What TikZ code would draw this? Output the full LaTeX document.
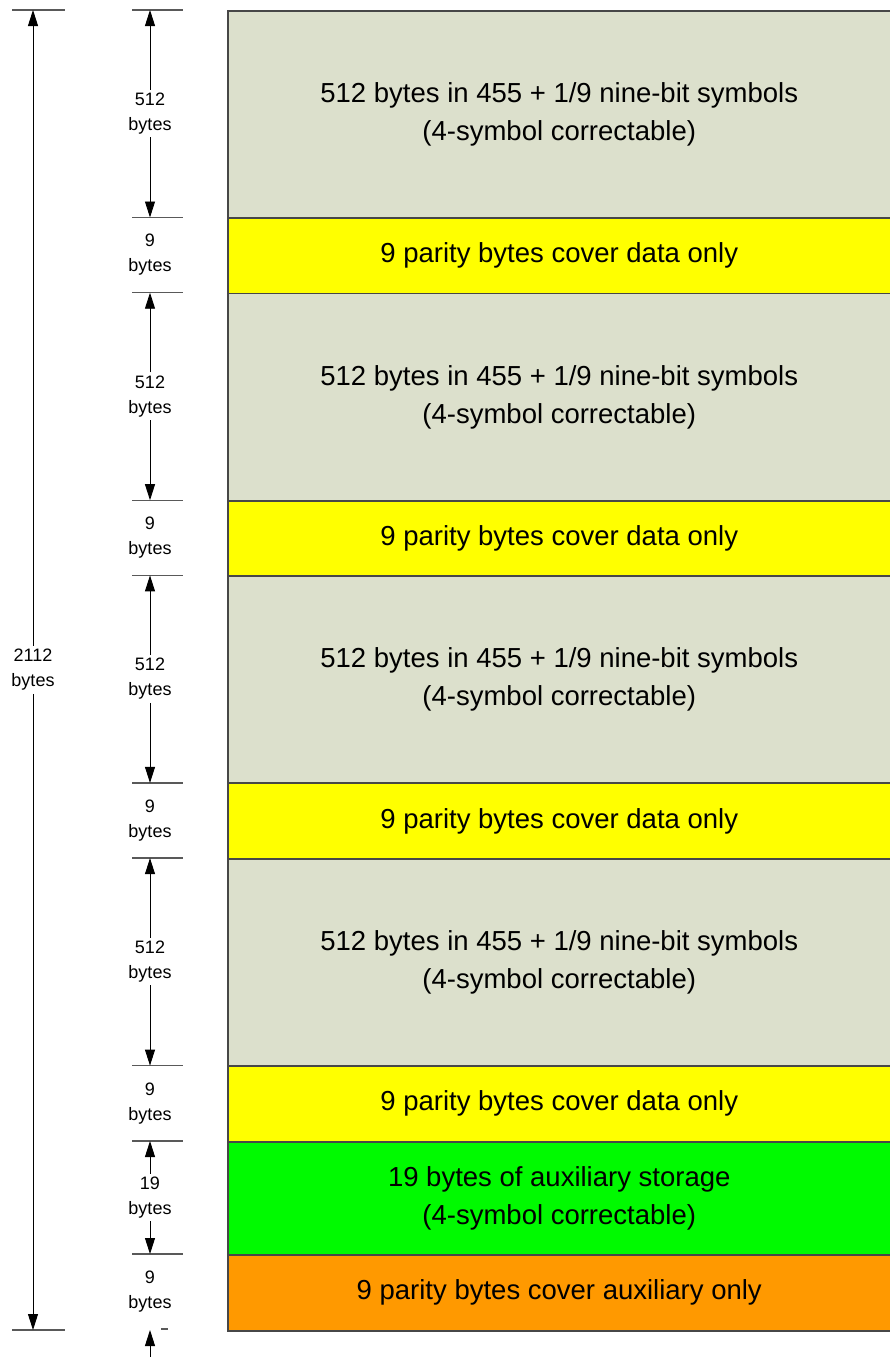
\documentclass[tikz,border=0pt]{standalone}
\usepackage{fontspec}
\setmainfont{Liberation Sans}
\usetikzlibrary{arrows.meta,positioning,calc}

\definecolor{datagray}{RGB}{220,224,204}
\definecolor{parityyellow}{RGB}{255,255,0}
\definecolor{auxgreen}{RGB}{0,250,0}
\definecolor{auxorange}{RGB}{255,153,0}

\begin{document}
\begin{tikzpicture}[x=1pt,y=-1pt,
blk/.style={draw=black!72,line width=1.5pt,anchor=north west,minimum width=663pt,inner sep=0pt,align=center,font=\fontsize{27.5}{38}\selectfont},
datablk/.style={blk,fill=datagray,minimum height=207pt},
parblk/.style={blk,fill=parityyellow,minimum height=75pt},
auxblk/.style={blk,fill=auxgreen,minimum height=113pt},
auxparblk/.style={blk,fill=auxorange,minimum height=76pt},
dimlbl/.style={align=center,inner sep=3pt,font=\fontsize{18}{25}\selectfont},
tickln/.style={draw=black!65,line width=1.3pt},
arr/.style={-{Triangle[length=16pt,width=10pt]},line width=0.9pt}]
\useasboundingbox (0,0) rectangle (890,1357);

% data + parity pairs
\foreach \i in {0,...,3}{
  \pgfmathsetmacro{\ytop}{10+282.7*\i}
  \node[datablk] (data\i) at (227,\ytop) {512 bytes in 455 + 1/9 nine-bit symbols\\(4-symbol correctable)};
  \node[parblk] (par\i) at (227,\ytop+207.5) {9 parity bytes cover data only};
  \coordinate (top\i) at (150,\ytop);
  \coordinate (bot\i) at (150,\ytop+207.5);
  \draw[tickln] (132,\ytop) -- (183,\ytop);
  \draw[tickln] (132,\ytop+207.5) -- (183,\ytop+207.5);
  \node[dimlbl] (lbl\i) at (150,\ytop+103.5) {512\\bytes};
  \node[dimlbl] (plbl\i) at (150,\ytop+245) {9\\bytes};
  \draw[arr] (lbl\i.north) -- (top\i);
  \draw[arr] (lbl\i.south) -- (bot\i);
}

% auxiliary storage
\node[auxblk] (aux) at (227,1141) {19 bytes of auxiliary storage\\(4-symbol correctable)};
\node[auxparblk] (auxpar) at (227,1254) {9 parity bytes cover auxiliary only};
\draw[tickln] (132,1141) -- (183,1141);
\draw[tickln] (132,1254) -- (183,1254);
\draw[tickln] (161,1329) -- (168,1329);
\coordinate (auxtop) at (150,1141);
\coordinate (auxbot) at (150,1254);
\coordinate (lastbot) at (150,1330);
\coordinate (pageend) at (150,1357);
\node[dimlbl] (auxlbl) at (150,1197.5) {19\\bytes};
\node[dimlbl] (auxplbl) at (150,1292) {9\\bytes};
\draw[arr] (auxlbl.north) -- (auxtop);
\draw[arr] (auxlbl.south) -- (auxbot);
\draw[arr] (pageend) -- (lastbot);

% total
\draw[tickln] (12,10) -- (65,10);
\draw[tickln] (12,1330) -- (65,1330);
\coordinate (tottop) at (33,10);
\coordinate (totbot) at (33,1330);
\node[dimlbl] (total) at (33,670) {2112\\bytes};
\draw[arr] (total.north) -- (tottop);
\draw[arr] (total.south) -- (totbot);
\end{tikzpicture}
\end{document}
